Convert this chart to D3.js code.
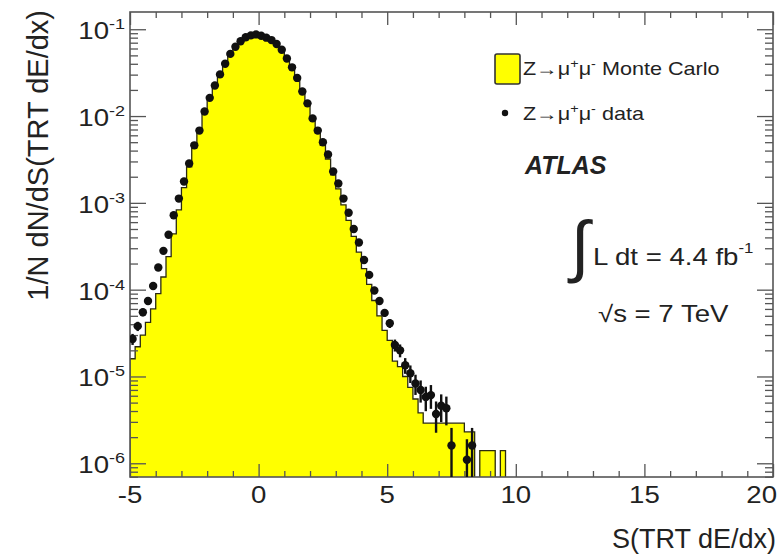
<!DOCTYPE html>
<html>
<head>
<meta charset="utf-8">
<script src="https://cdn.jsdelivr.net/npm/d3@7"></script>
<style>
  body { margin: 0; background: #fff; }
  svg { display: block; }
  text { font-family: "Liberation Sans", Arial, Helvetica, sans-serif; fill: #222; }
</style>
</head>
<body>
<div id="chart"></div>
<script>
// ---- data (bins of width 0.2 in S) ----
var binCenters = [
  -4.9, -4.7, -4.5, -4.3, -4.1, -3.9, -3.7, -3.5, -3.3, -3.1,
  -2.9, -2.7, -2.5, -2.3, -2.1, -1.9, -1.7, -1.5, -1.3, -1.1,
  -0.9, -0.7, -0.5, -0.3, -0.1, 0.1, 0.3, 0.5, 0.7, 0.9,
  1.1, 1.3, 1.5, 1.7, 1.9, 2.1, 2.3, 2.5, 2.7, 2.9,
  3.1, 3.3, 3.5, 3.7, 3.9, 4.1, 4.3, 4.5, 4.7, 4.9,
  5.1, 5.3, 5.5, 5.7, 5.9, 6.1, 6.3, 6.5, 6.7, 6.9,
  7.1, 7.3, 7.5, 7.7, 7.9, 8.1, 8.3, 8.5, 8.7, 8.9,
  9.1, 9.3, 9.5, 9.7, 9.9
];
var binWidth = 0.2;

// Z->mumu Monte Carlo (yellow histogram)
var mcValues = [
  1.6e-5, 2.2e-5, 3.0e-5, 4.2e-5, 6.0e-5, 9.0e-5, 1.4e-4, 2.4e-4, 4.4e-4, 8.3e-4,
  1.5e-3, 2.6e-3, 4.3e-3, 6.6e-3, 0.0108, 0.0160, 0.0222, 0.0300, 0.0398, 0.0515,
  0.0625, 0.0722, 0.0805, 0.0848, 0.0868, 0.0838, 0.0795, 0.0745, 0.0670, 0.0575,
  0.0455, 0.0358, 0.0270, 0.0188, 0.0136, 0.0091, 0.0064, 0.0046, 0.0032, 0.0021,
  1.45e-3, 9.5e-4, 6.3e-4, 4.1e-4, 2.7e-4, 1.75e-4, 1.15e-4, 7.5e-5, 5.0e-5, 3.4e-5,
  2.6e-5, 1.5e-5, 1.3e-5, 1.0e-5, 7.5e-6, 5.5e-6, 3.8e-6, 2.9e-6, 2.9e-6, 2.9e-6,
  2.9e-6, 2.9e-6, 2.9e-6, 2.9e-6, 2.9e-6, 2.3e-6, 2.3e-6, 0, 1.4e-6, 1.4e-6,
  1.4e-6, 0, 1.4e-6, 0, 0
];

// Z->mumu data (black points), null = empty bin
var dataValues = [
  2.7e-5, 3.8e-5, 5.5e-5, 7.4e-5, 1.1e-4, 1.8e-4, 2.8e-4, 4.3e-4, 7.2e-4, 1.12e-3,
  1.76e-3, 2.84e-3, 4.6e-3, 6.8e-3, 0.0113, 0.0162, 0.0225, 0.0302, 0.0400, 0.0520,
  0.0628, 0.0726, 0.0809, 0.0850, 0.0872, 0.0840, 0.0800, 0.0750, 0.0676, 0.0580,
  0.0460, 0.0364, 0.0275, 0.0192, 0.0140, 0.0094, 0.0068, 0.0050, 0.0036, 0.0023,
  1.67e-3, 1.12e-3, 7.7e-4, 5.0e-4, 3.5e-4, 2.2e-4, 1.48e-4, 9.8e-5, 7.4e-5, 5.4e-5,
  4.1e-5, 2.3e-5, 2.0e-5, 1.35e-5, 1.09e-5, 8.3e-6, 7.0e-6, 5.8e-6, 6.1e-6, 3.7e-6,
  4.6e-6, 4.3e-6, 1.6e-6, null, null, 1.1e-6, 1.6e-6, null, null, null,
  null, null, null, null, null
];
// weight of a single data event (sets the size of the stat. error bars)
var eventWeight = 0.57e-6;

var xMajorTicks = [-5, 0, 5, 10, 15, 20];
var yMajorTicks = [1e-6, 1e-5, 1e-4, 1e-3, 1e-2, 1e-1];
var yTickExp = ["-6", "-5", "-4", "-3", "-2", "-1"];

// ---- layout ----
var width = 777, height = 555;
var plot = { left: 130, right: 773, top: 12, bottom: 477 };
var stretch = 1.2;   // the labels in the original are drawn a bit wide

var svg = d3.select("#chart")
  .append("svg")
  .attr("width", width)
  .attr("height", height);

var x = d3.scaleLinear().domain([-5, 20]).range([plot.left, plot.right]);
var y = d3.scaleLog().domain([6.95e-7, 0.158]).range([plot.bottom, plot.top]);

var xMinorTicks = d3.range(-5, 20.5, 1).filter(function(d) { return xMajorTicks.indexOf(d) < 0; });
var yMinorTicks = y.ticks().filter(function(d) {
  return yMajorTicks.every(function(m) { return Math.abs(d / m - 1) > 1e-6; });
});

function wideText(px, py) {
  return svg.append("text")
    .attr("transform", "translate(" + px + "," + py + ") scale(" + stretch + ",1)");
}

svg.append("defs").append("clipPath").attr("id", "clip")
  .append("rect")
  .attr("x", plot.left).attr("y", plot.top)
  .attr("width", plot.right - plot.left).attr("height", plot.bottom - plot.top);

// ---- MC histogram ----
var bins = binCenters.map(function(c, i) {
  return { lo: c - binWidth / 2, hi: c + binWidth / 2, mc: mcValues[i], data: dataValues[i], s: c };
});

function yClamp(v) { return v > 0 ? y(v) : plot.bottom + 5; }

var step = [[x(bins[0].lo), plot.bottom + 5]];
bins.forEach(function(b) {
  step.push([x(b.lo), yClamp(b.mc)]);
  step.push([x(b.hi), yClamp(b.mc)]);
});
step.push([x(bins[bins.length - 1].hi), plot.bottom + 5]);

var histo = svg.append("g").attr("clip-path", "url(#clip)");
histo.append("path")
  .attr("d", d3.line()(step) + "Z")
  .attr("fill", "#ffff00")
  .attr("stroke", "none");
histo.append("path")
  .attr("d", d3.line()(step))
  .attr("fill", "none")
  .attr("stroke", "#2b2b10")
  .attr("stroke-width", 1.3);

// ---- axes (ROOT style: ticks inside the frame on all four sides) ----
function styleAxis(g) {
  g.select(".domain").remove();
  g.selectAll(".tick line").attr("stroke", "#555").attr("stroke-width", 1.3);
}
svg.append("g").attr("transform", "translate(" + plot.left + ",0)")
  .call(d3.axisRight(y).tickValues(yMinorTicks).tickSize(8).tickFormat("")).call(styleAxis);
svg.append("g").attr("transform", "translate(" + plot.left + ",0)")
  .call(d3.axisRight(y).tickValues(yMajorTicks).tickSize(16).tickFormat("")).call(styleAxis);
svg.append("g").attr("transform", "translate(" + plot.right + ",0)")
  .call(d3.axisLeft(y).tickValues(yMinorTicks).tickSize(8).tickFormat("")).call(styleAxis);
svg.append("g").attr("transform", "translate(" + plot.right + ",0)")
  .call(d3.axisLeft(y).tickValues(yMajorTicks).tickSize(16).tickFormat("")).call(styleAxis);
svg.append("g").attr("transform", "translate(0," + plot.bottom + ")")
  .call(d3.axisTop(x).tickValues(xMinorTicks).tickSize(6).tickFormat("")).call(styleAxis);
svg.append("g").attr("transform", "translate(0," + plot.bottom + ")")
  .call(d3.axisTop(x).tickValues(xMajorTicks).tickSize(13).tickFormat("")).call(styleAxis);
svg.append("g").attr("transform", "translate(0," + plot.top + ")")
  .call(d3.axisBottom(x).tickValues(xMinorTicks).tickSize(6).tickFormat("")).call(styleAxis);
svg.append("g").attr("transform", "translate(0," + plot.top + ")")
  .call(d3.axisBottom(x).tickValues(xMajorTicks).tickSize(13).tickFormat("")).call(styleAxis);

svg.append("rect")
  .attr("x", plot.left).attr("y", plot.top)
  .attr("width", plot.right - plot.left).attr("height", plot.bottom - plot.top)
  .attr("fill", "none").attr("stroke", "#555").attr("stroke-width", 1.6);

// tick labels
xMajorTicks.forEach(function(d, i) {
  var last = i === xMajorTicks.length - 1;
  wideText(last ? 777 : x(d), 503)
    .attr("text-anchor", last ? "end" : "middle")
    .attr("font-size", 23)
    .text(d);
});

yMajorTicks.forEach(function(d, i) {
  var t = wideText(125, y(d) + 10)
    .attr("text-anchor", "end")
    .attr("font-size", 23);
  t.append("tspan").text("10");
  t.append("tspan").attr("dy", -10).attr("font-size", 15).text(yTickExp[i]);
});

// axis titles
svg.append("text")
  .attr("transform", "translate(48,10) rotate(-90)")
  .attr("text-anchor", "end")
  .attr("font-size", 29)
  .text("1/N dN/dS(TRT dE/dx)");

svg.append("text")
  .attr("x", 776).attr("y", 548)
  .attr("text-anchor", "end")
  .attr("font-size", 27)
  .text("S(TRT dE/dx)");

// ---- data points with statistical error bars ----
var pts = bins.filter(function(b) { return b.data != null; });
var pg = svg.append("g").attr("clip-path", "url(#clip)");
pg.selectAll("line")
  .data(pts)
  .enter().append("line")
  .attr("x1", function(d) { return x(d.s); })
  .attr("x2", function(d) { return x(d.s); })
  .attr("y1", function(d) {
    var rel = 1 / Math.sqrt(d.data / eventWeight);
    return yClamp(d.data * (1 - rel));
  })
  .attr("y2", function(d) {
    var rel = 1 / Math.sqrt(d.data / eventWeight);
    return y(d.data * (1 + rel));
  })
  .attr("stroke", "#111")
  .attr("stroke-width", 2.4);
pg.selectAll("circle")
  .data(pts)
  .enter().append("circle")
  .attr("cx", function(d) { return x(d.s); })
  .attr("cy", function(d) { return y(d.data); })
  .attr("r", 4.2)
  .attr("fill", "#111");

// ---- legend ----
svg.append("rect")
  .attr("x", 495).attr("y", 54).attr("width", 25).attr("height", 30).attr("rx", 2)
  .attr("fill", "#ffff00").attr("stroke", "#333").attr("stroke-width", 1.6);

function zmumu(t, rest) {
  t.append("tspan").text("Z\u2192\u03bc");
  t.append("tspan").attr("dy", -7).attr("font-size", 12).text("+");
  t.append("tspan").attr("dy", 7).text("\u03bc");
  t.append("tspan").attr("dy", -7).attr("font-size", 12).text("-");
  t.append("tspan").attr("dy", 7).text(rest);
}
zmumu(wideText(523, 75).attr("font-size", 18), " Monte Carlo");
svg.append("circle").attr("cx", 505).attr("cy", 113).attr("r", 3.2).attr("fill", "#111");
zmumu(wideText(523, 120).attr("font-size", 18), " data");

svg.append("text")
  .attr("x", 525).attr("y", 174)
  .attr("font-size", 25).attr("font-weight", "bold").attr("font-style", "italic")
  .text("ATLAS");

svg.append("text")
  .attr("x", 571).attr("y", 269)
  .attr("font-size", 68)
  .attr("font-family", "DejaVu Sans")
  .text("\u222b");
var lumi = wideText(593, 265).attr("font-size", 23);
lumi.append("tspan").text("L dt = 4.4 fb");
lumi.append("tspan").attr("dy", -12).attr("font-size", 14).text("-1");

wideText(598, 322)
  .attr("font-size", 23)
  .text("\u221as = 7 TeV");
</script>
</body>
</html>
